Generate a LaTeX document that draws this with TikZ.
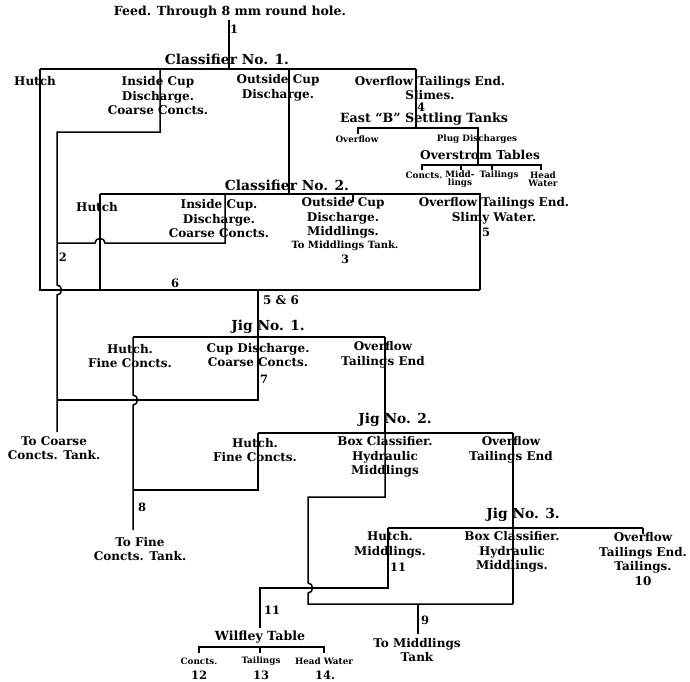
\documentclass[tikz,border=0pt]{standalone}
\usepackage{fontspec}
\setmainfont{DejaVu Serif}
\usetikzlibrary{positioning}
% line hops: vertical line going down, horizontal line going left
\newcommand{\hopdown}[2]{-- (#1,#2-5) .. controls (#1+6,#2-5) and (#1+6,#2+5) .. (#1,#2+5)}
\newcommand{\hopleft}[2]{-- (#1+5,#2) .. controls (#1+5,#2-6) and (#1-5,#2-6) .. (#1-5,#2)}

\begin{document}
\begin{tikzpicture}[
  x=1pt, y=-1pt,
  flow/.style={line width=1.5pt},
  tick/.style={line width=1.2pt},
  ttl/.style={font=\fontsize{13.8}{15}\selectfont\bfseries, inner sep=0pt},
  lbl/.style={font=\fontsize{12}{14.5}\selectfont\bfseries, align=center, inner sep=0pt},
  sml/.style={font=\fontsize{8.8}{8.5}\selectfont\bfseries, align=center, inner sep=0pt},
  num/.style={font=\fontsize{11.5}{13}\selectfont\bfseries, inner sep=0pt}
]
\useasboundingbox[fill=white] (0,0) rectangle (690,681);

% Classifier No. 1
\node[lbl, font=\fontsize{12.5}{14}\selectfont\bfseries] (feed) at (230,12) {Feed. Through 8 mm round hole.};
\node[num] (n1) at (234,29) {1};
\node[ttl] (cls1) at (227,59) {Classifier No. 1.};
\node[lbl] (c1hutchT) at (35,81) {Hutch};
\node[lbl] (c1insideT) at (158,96) {Inside Cup\\Discharge.\\Coarse Concts.};
\node[lbl] (c1outsideT) at (278,88) {Outside Cup\\Discharge.};
\node[lbl] (c1overT) at (430,88) {Overflow Tailings End.\\Slimes.};
\node[num] (n4) at (421,107) {4};

% settling tanks and tables
\node[ttl, font=\fontsize{12.7}{14}\selectfont\bfseries] (settle) at (424,119) {East ``B'' Settling Tanks};
\node[sml] (setOver) at (357,139) {Overflow};
\node[sml] (setPlug) at (477,139) {Plug Discharges};
\node[ttl, font=\fontsize{12.2}{14}\selectfont\bfseries] (strom) at (480,155) {Overstrom Tables};
\node[sml] (stCon) at (424,175) {Concts.};
\node[sml] (stMid) at (460,179) {Midd-\\lings};
\node[sml] (stTail) at (499,175) {Tailings};
\node[sml] (stHead) at (543,179) {Head\\Water};

% Classifier No. 2
\node[ttl] (cls2) at (287,185) {Classifier No. 2.};
\node[lbl] (c2hutchT) at (97,207) {Hutch};
\node[lbl] (c2insideT) at (219,219) {Inside Cup.\\Discharge.\\Coarse Concts.};
\node[lbl] (c2outsideT) at (343,218) {Outside Cup\\Discharge.\\Middlings.};
\node[sml, font=\fontsize{10}{11}\selectfont\bfseries] (c2tank) at (345,246) {To Middlings Tank.};
\node[num] (n3) at (345,259) {3};
\node[lbl] (c2overT) at (494,211) {Overflow Tailings End.\\Slimy Water.};
\node[num] (n5) at (486,232) {5};
\node[num] (n2) at (63,257) {2};
\node[num] (n6) at (175,283) {6};
\node[num, font=\fontsize{12}{13}\selectfont\bfseries] (n56) at (281,300) {5 \& 6};

% Jig No. 1
\node[ttl] (jig1) at (268,327) {Jig No. 1.};
\node[lbl] (j1hutchT) at (130,356) {Hutch.\\Fine Concts.};
\node[lbl] (j1cupT) at (258,355) {Cup Discharge.\\Coarse Concts.};
\node[num] (n7) at (264,379) {7};
\node[lbl] (j1overT) at (383,355) {Overflow\\Tailings End};
\node[lbl] (coarseT) at (54,448) {To Coarse\\Concts. Tank.};
\node[num] (n8) at (142,507) {8};
\node[lbl] (fineT) at (140,549) {To Fine\\Concts. Tank.};

% Jig No. 2
\node[ttl] (jig2) at (395,420) {Jig No. 2.};
\node[lbl] (j2hutchT) at (255,450) {Hutch.\\Fine Concts.};
\node[lbl] (j2boxT) at (385,457) {Box Classifier.\\Hydraulic\\Middlings};
\node[lbl] (j2overT) at (511,450) {Overflow\\Tailings End};

% Jig No. 3
\node[ttl] (jig3) at (523,515) {Jig No. 3.};
\node[lbl] (j3hutchT) at (390,545) {Hutch.\\Middlings.};
\node[num] (n11a) at (398,567) {11};
\node[lbl] (j3boxT) at (512,552) {Box Classifier.\\Hydraulic\\Middlings.};
\node[lbl] (j3overT) at (643,559) {Overflow\\Tailings End.\\Tailings.\\10};
\node[num] (n11b) at (272,610) {11};
\node[num] (n9) at (425,620) {9};
\node[lbl] (midT) at (417,650) {To Middlings\\Tank};

% Wilfley table
\node[ttl, font=\fontsize{12.6}{14}\selectfont\bfseries] (wilf) at (260,637) {Wilfley Table};
\node[sml] (wCon) at (199,661) {Concts.};
\node[sml] (wTail) at (261,661) {Tailings};
\node[sml] (wHead) at (324,661) {Head Water};
\node[num] (n12) at (199,675) {12};
\node[num] (n13) at (261,675) {13};
\node[num] (n14) at (325,675) {14.};

% junction points
\coordinate (feedA) at (229,20);
\coordinate (c1a) at (40,69);
\coordinate (c1b) at (160,69);
\coordinate (c1c) at (229,69);
\coordinate (c1d) at (289,69);
\coordinate (c1e) at (416,69);
\coordinate (botL) at (40,290);
\coordinate (botR) at (480,290);
\coordinate (c2a) at (100,194);
\coordinate (c2b) at (225,194);
\coordinate (c2c) at (289,194);
\coordinate (c2d) at (353,194);
\coordinate (c2e) at (480,194);
\coordinate (c2hutchEnd) at (100,290);
\coordinate (coarseJoin) at (57,400);
\coordinate (coarseEnd) at (57,432);
\coordinate (s56) at (258,290);
\coordinate (j1a) at (133,337);
\coordinate (j1b) at (258,337);
\coordinate (j1c) at (385,337);
\coordinate (fineJoin) at (133,490);
\coordinate (fineEnd) at (133,530);
\coordinate (j2a) at (258,433);
\coordinate (j2b) at (385,433);
\coordinate (j2c) at (513,433);
\coordinate (j3a) at (388,528);
\coordinate (j3b) at (513,528);
\coordinate (j3c) at (643,528);
\coordinate (midJoin) at (418,604);
\coordinate (midEnd) at (418,634);
\coordinate (wilfEnd) at (260,628);
\coordinate (setA) at (416,128);
\coordinate (strA) at (478,165);

% classifier 1
\draw[flow] (feedA) -- (c1c);
\draw[flow] (c1a) -- (c1e);
\draw[flow] (c1a) -- (botL) -- (botR);
\draw[flow] (c1b) -- (160,132) -- (57,132) \hopdown{57}{290} -- (coarseJoin) -- (coarseEnd);
\draw[flow] (c1e) -- (setA);

% settling tanks and tables
\draw[tick] (358,134) -- (358,128) -- (478,128) -- (strA);
\draw[tick] (422,170) -- (422,165) -- (541,165) -- (541,170);
\draw[tick] (461,165) -- (461,170);
\draw[tick] (492,165) -- (492,170);

% classifier 2
\draw[flow] (c1d) -- (c2c);
\draw[flow] (c2a) -- (c2e) -- (botR);
\draw[flow] (c2a) -- (c2hutchEnd);
\draw[flow] (c2b) -- (225,243) \hopleft{100}{243} -- (57,243);
\draw[flow] (c2d) -- ++(0,8);

% jig 1
\draw[flow] (s56) -- (j1b) -- (258,400) -- (coarseJoin);
\draw[flow] (j1a) -- (j1c);
\draw[flow] (j1a) \hopdown{133}{400} -- (fineJoin) -- (fineEnd);
\draw[flow] (j1c) -- (j2b);

% jig 2
\draw[flow] (j2a) -- (j2c);
\draw[flow] (j2a) -- (258,490) -- (fineJoin);
\draw[flow] (j2b) -- (385,497) -- (308,497) \hopdown{308}{588} -- (308,604) -- (513,604);
\draw[flow] (j2c) -- (j3b) -- (513,604);

% jig 3
\draw[flow] (j3a) -- (j3c);
\draw[flow] (j3c) -- ++(0,6);
\draw[flow] (j3a) -- (388,588) -- (260,588) -- (wilfEnd);
\draw[flow] (midJoin) -- (midEnd);

% wilfley table
\draw[tick] (199,653) -- (199,647) -- (324,647) -- (324,653);
\draw[tick] (260,647) -- (260,653);
\end{tikzpicture}
\end{document}
